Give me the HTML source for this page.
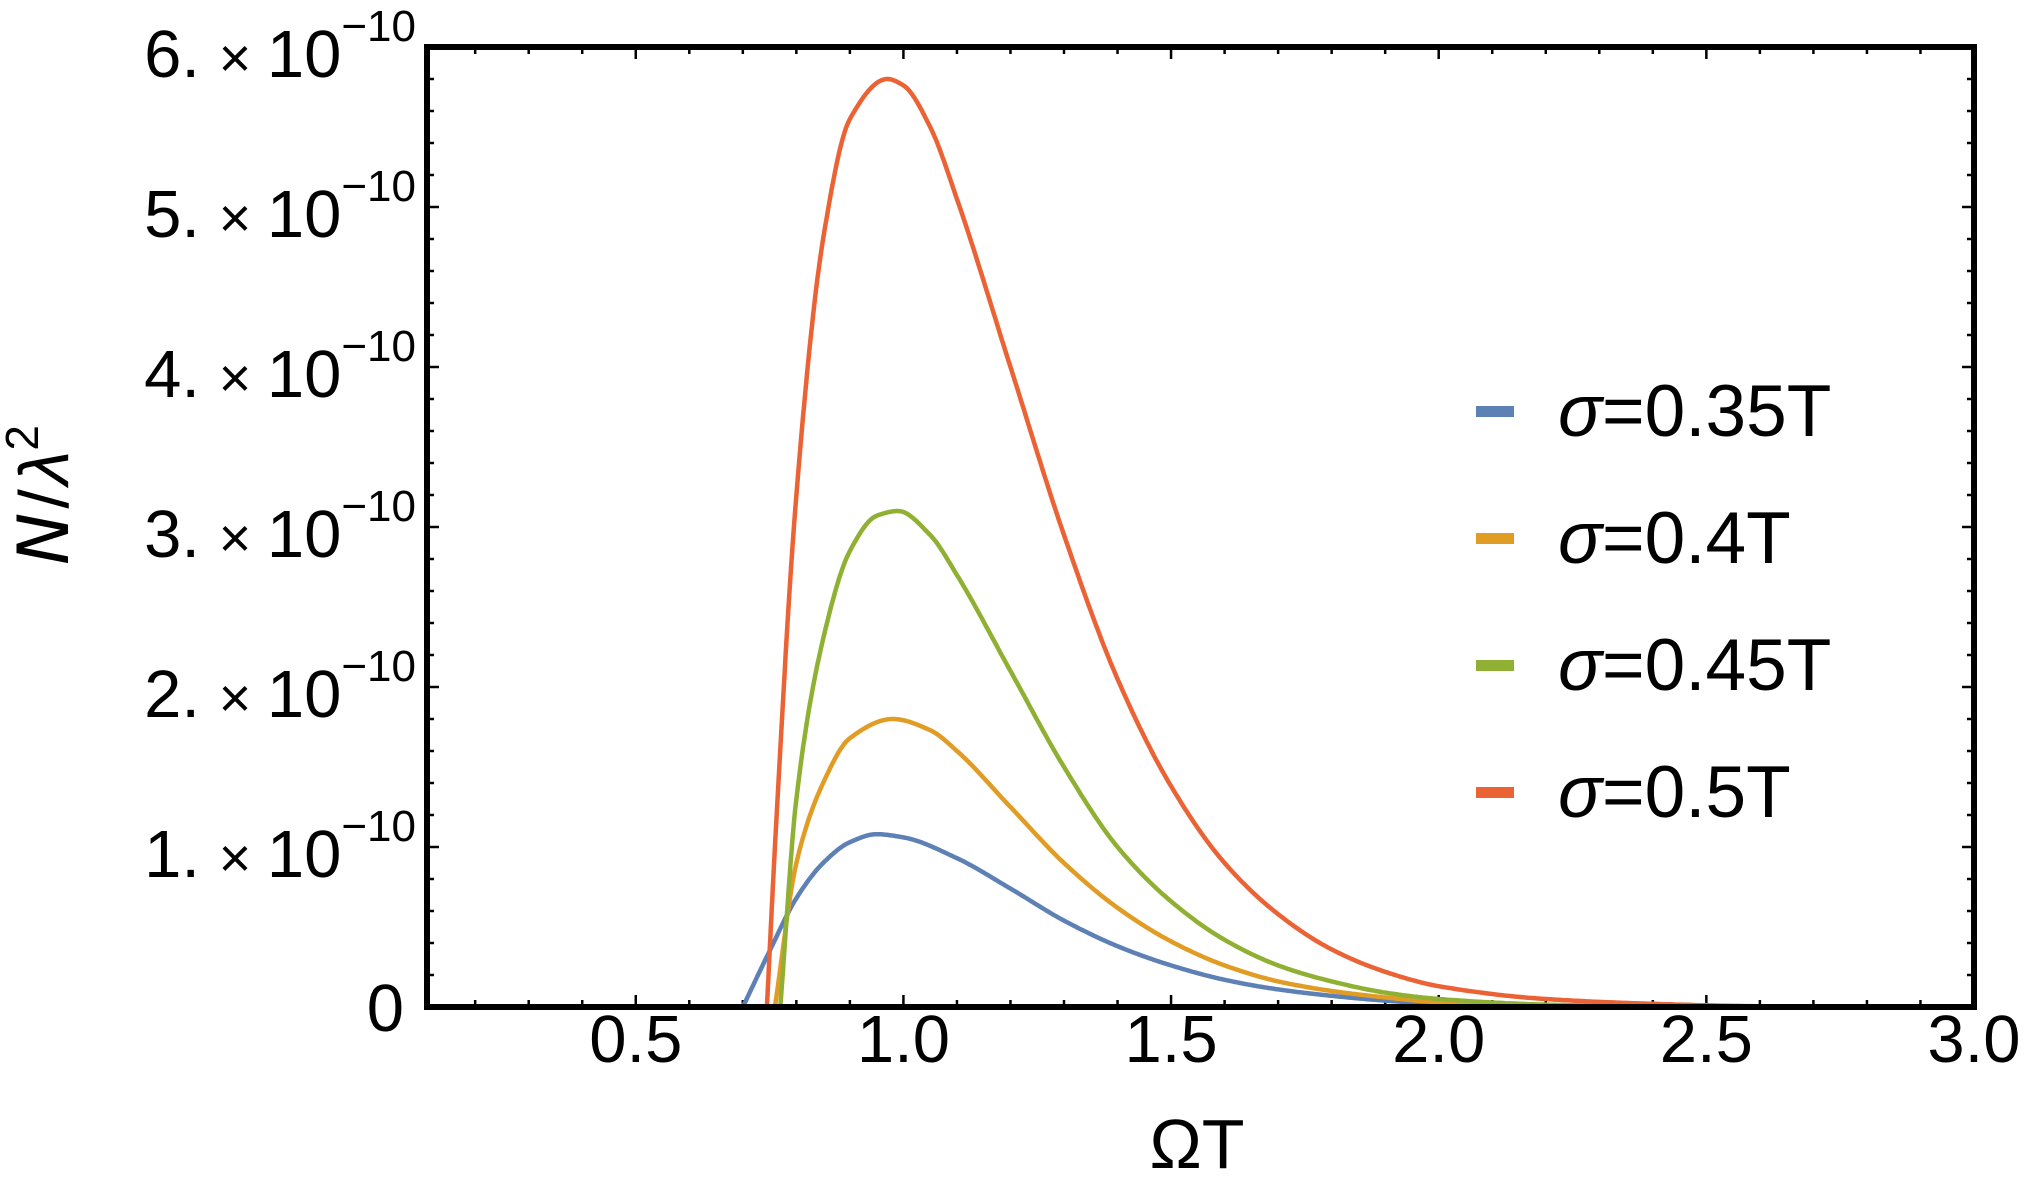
<!DOCTYPE html>
<html><head><meta charset="utf-8"><style>
html,body{margin:0;padding:0;background:#fff;}
svg{display:block;font-family:"Liberation Sans",sans-serif;}
</style></head><body>
<svg id="chart" width="2029" height="1197" viewBox="0 0 2029 1197" xmlns="http://www.w3.org/2000/svg">
<g id="ticks"></g>
<g id="series"></g>
<rect x="427" y="47" width="1547" height="960" fill="none" stroke="#000" stroke-width="6"/>
<g id="ylabels"></g>
<g id="xlabels"></g>
<text x="1197" y="1168" font-size="70" text-anchor="middle">ΩT</text>
<text transform="translate(68,495) rotate(-90)" font-size="70" text-anchor="middle"><tspan font-style="italic" font-family="DejaVu Sans,sans-serif">N</tspan><tspan dx="4">/</tspan><tspan dx="4" font-style="italic">λ</tspan><tspan font-size="46" dy="-30">2</tspan></text>
<g id="legend"></g>
</svg>
<script>
const seriesNames = ["σ=0.35T","σ=0.4T","σ=0.45T","σ=0.5T"];
const seriesColors = ["#5E81B5","#E19C24","#8FB032","#EB6235"];
const xBlue = [0.70,0.75,0.8,0.85,0.9,0.95,1.0,1.1,1.2,1.3,1.4,1.5,1.6,1.7,1.8,1.9,2.0,2.2,2.4,3.0];
const yBlue = [0,0.35,0.68,0.9,1.03,1.08,1.06,0.93,0.74,0.54,0.38,0.26,0.17,0.11,0.07,0.04,0.02,0.005,0,0];
const xOrange = [0.76,0.8,0.85,0.9,0.98,1.05,1.1,1.2,1.3,1.4,1.5,1.6,1.7,1.8,1.9,2.0,2.2,2.4,3.0];
const yOrange = [0,0.9,1.4,1.68,1.8,1.73,1.6,1.25,0.9,0.62,0.41,0.26,0.16,0.1,0.06,0.03,0.01,0,0];
const xGreen = [0.77,0.8,0.85,0.9,0.95,0.99,1.05,1.1,1.2,1.3,1.4,1.5,1.6,1.7,1.8,1.9,2.0,2.2,2.4,2.6,3.0];
const yGreen = [0,1.3,2.3,2.85,3.07,3.1,2.95,2.7,2.1,1.5,1.0,0.66,0.42,0.26,0.16,0.09,0.05,0.015,0.004,0,0];
const xRed = [0.745,0.76,0.8,0.85,0.9,0.97,1.0,1.05,1.1,1.2,1.3,1.4,1.5,1.6,1.7,1.8,1.9,2.0,2.2,2.4,2.6,3.0];
const yRed = [0,1.0,3.2,4.8,5.55,5.8,5.76,5.5,5.05,4.0,2.95,2.05,1.38,0.9,0.58,0.36,0.22,0.13,0.05,0.02,0.005,0];
const xTicks = [0.5,1.0,1.5,2.0,2.5,3.0];
const xTickLabels = ["0.5","1.0","1.5","2.0","2.5","3.0"];
const yTicks = [0,1,2,3,4,5,6];
const yTickLabels = ["0","1.","2.","3.","4.","5.","6."];

const NS="http://www.w3.org/2000/svg";
const X0=0.11, X1=3.0, PL=427, PR=1974, PT=47, PB=1007, YMAX=6;
function sx(v){return PL+(v-X0)/(X1-X0)*(PR-PL);}
function sy(v){return PB-v/YMAX*(PB-PT);}
function mk(tag,attrs,parent){const e=document.createElementNS(NS,tag);for(const k in attrs)e.setAttribute(k,attrs[k]);parent.appendChild(e);return e;}

const tg=document.getElementById('ticks');
for(let v=0.2; v<=2.96; v+=0.1){
  const major=Math.abs(v*2-Math.round(v*2))<1e-6;
  const L=major?12:7;
  const t1=mk('line',{x1:sx(v),x2:sx(v),y1:PB,y2:PB-L,stroke:'#000','stroke-width':2.5},tg);
  
  
  const t2=mk('line',{x1:sx(v),x2:sx(v),y1:PT,y2:PT+L,stroke:'#000','stroke-width':2.5},tg);
  
  
}
for(let v=0.2; v<6; v+=0.2){
  const major=Math.abs(v-Math.round(v))<1e-6;
  const L=major?12:7;
  const t1=mk('line',{x1:PL,x2:PL+L,y1:sy(v),y2:sy(v),stroke:'#000','stroke-width':2.5},tg);
  
  
  const t2=mk('line',{x1:PR,x2:PR-L,y1:sy(v),y2:sy(v),stroke:'#000','stroke-width':2.5},tg);
  
  
}

const xl=document.getElementById('xlabels');
xTicks.forEach((v,i)=>{
  const t=mk('text',{x:sx(v),y:1062,'font-size':67,'text-anchor':'middle'},xl);
  
  
  t.textContent=xTickLabels[i];
});
const yl=document.getElementById('ylabels');
yTicks.forEach((v,i)=>{
  const t=mk('text',{x:416,y:sy(v)+(v===0?24:30),'font-size':67,'text-anchor':'end'},yl);
  
  
  if(v===0){t.textContent='0';t.setAttribute('x',404);return;}
  const a=mk('tspan',{},t);a.textContent=yTickLabels[i]+' ';
  const b=mk('tspan',{'font-size':56},t);b.textContent='× ';
  const c=mk('tspan',{},t);c.textContent='10';
  const d=mk('tspan',{'font-size':44,dy:-36},t);d.textContent='−10';
});

// monotone cubic (Fritsch-Carlson) interpolation in data space
function pathFor(xs,ys){
  const n=xs.length, d=[], m=new Array(n);
  for(let i=0;i<n-1;i++) d.push((ys[i+1]-ys[i])/(xs[i+1]-xs[i]));
  m[0]=d[0]; m[n-1]=d[n-2];
  for(let i=1;i<n-1;i++){
    if(d[i-1]*d[i]<=0) m[i]=0;
    else { const w1=2*(xs[i+1]-xs[i])+(xs[i]-xs[i-1]), w2=(xs[i+1]-xs[i])+2*(xs[i]-xs[i-1]); m[i]=(w1+w2)/(w1/d[i-1]+w2/d[i]); }
  }
  let s='';
  for(let i=0;i<n-1;i++){
    const h=xs[i+1]-xs[i], steps=24;
    for(let k=(i===0?0:1);k<=steps;k++){
      const t=k/steps, t2=t*t, t3=t2*t;
      const y=(2*t3-3*t2+1)*ys[i]+(t3-2*t2+t)*h*m[i]+(-2*t3+3*t2)*ys[i+1]+(t3-t2)*h*m[i+1];
      const x=xs[i]+t*h;
      s+=(s?' L':'M')+sx(x).toFixed(1)+','+sy(Math.max(0,y)).toFixed(1);
    }
  }
  return s;
}
const sg=document.getElementById('series');
const allX=[xBlue,xOrange,xGreen,xRed], allY=[yBlue,yOrange,yGreen,yRed];
const sNames=['series-sigma-0.35','series-sigma-0.4','series-sigma-0.45','series-sigma-0.5'];
allX.forEach((xs,i)=>{
  const p=mk('path',{d:pathFor(xs,allY[i]),fill:'none',stroke:seriesColors[i],'stroke-width':4.5,'stroke-linejoin':'round'},sg);
  
  
});

const lg=document.getElementById('legend');
seriesNames.forEach((n,i)=>{
  const cy=412+i*127;
  const r=mk('rect',{x:1476,y:cy-6,width:38,height:11,fill:seriesColors[i]},lg);
  
  
  const t=mk('text',{x:1558,y:cy+24,'font-size':73},lg);
  
  
  const a=mk('tspan',{'font-style':'italic'},t);a.textContent='σ';
  const b=mk('tspan',{},t);b.textContent=n.slice(1);
});
</script>
</body></html>
